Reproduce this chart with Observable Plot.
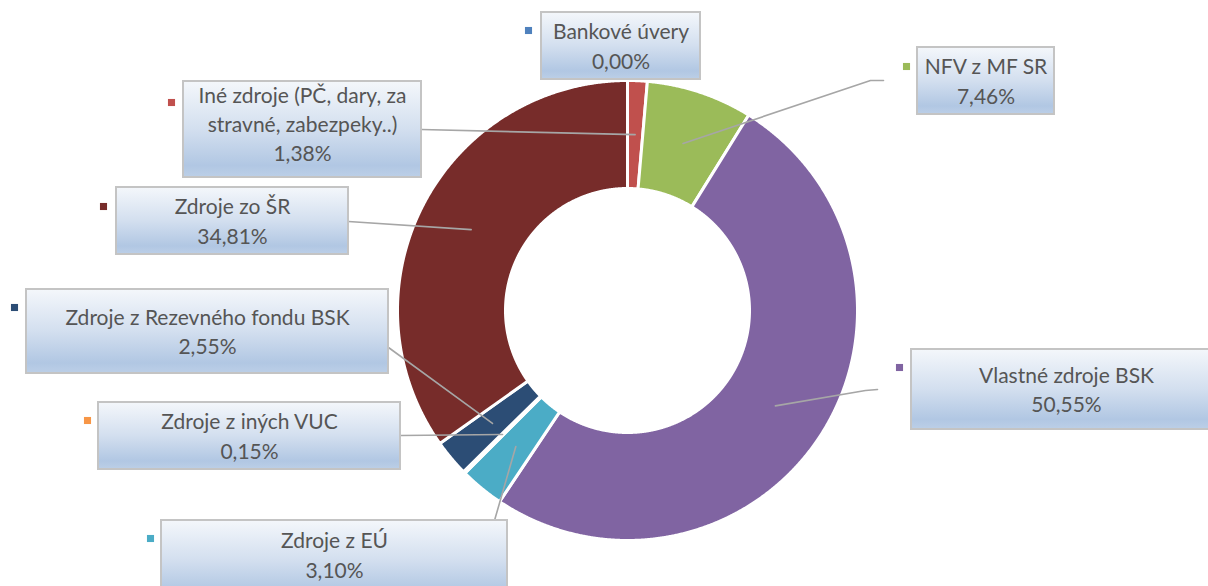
<!DOCTYPE html>
<html><head><meta charset="utf-8">
<script src="https://cdn.jsdelivr.net/npm/d3@7"></script>
<script src="https://cdn.jsdelivr.net/npm/@observablehq/plot@0.6"></script>
<style>body{margin:0;background:#fff}</style>
</head><body><div id="chart"></div>
<script>
// ---- data ----
const categories = [
  "Bankové úvery",
  "Iné zdroje (PČ, dary, za stravné, zabezpeky..)",
  "NFV z MF SR",
  "Vlastné zdroje BSK",
  "Zdroje z EÚ",
  "Zdroje z iných VUC",
  "Zdroje z Rezevného fondu BSK",
  "Zdroje zo ŠR"
];
const shares = [0.00, 1.38, 7.46, 50.55, 3.10, 0.15, 2.55, 34.81];
const labelTexts = [
  "Bankové úvery",
  "Iné zdroje (PČ, dary, za\nstravné, zabezpeky..)",
  "NFV z MF SR",
  "Vlastné zdroje BSK",
  "Zdroje z EÚ",
  "Zdroje z iných VUC",
  "Zdroje z Rezevného fondu BSK",
  "Zdroje zo ŠR"
];
const colors = ["#4F81BD", "#C0504D", "#9BBB59", "#8064A2", "#4BACC6", "#F79646", "#2C4D75", "#772C2A"];

// ---- layout (pixel space of the 1208x586 canvas) ----
const W = 1208, H = 586;
const center = [627, 310], outerR = 230, innerR = 122, anchorR = 176;
// box [x1,x2,y1,y2], marker [x,y], text center x, leader elbow points (from box side)
const boxes = [
  [541, 700, 12, 79],
  [183, 421, 81, 177],
  [917, 1054, 47, 114],
  [911, 1222, 349, 429],
  [161, 507, 520, 600],
  [98, 400, 402, 469],
  [26, 388, 289, 373],
  [116, 348, 187, 254]
];
const markers = [[528, 30], [171, 102], [906, 66], [899, 367], [150, 538], [87, 420], [14, 307], [103, 206]];
const textX = [620.5, 302, 985.5, 1066, 334, 249, 207, 232];
const leaders = [
  [],
  [[421, 129]],
  [[883, 80], [870, 80]],
  [[877, 389], [865, 390]],
  [[494, 520]],
  [[400, 435]],
  [[388, 347]],
  [[348, 221]]
];

// ---- derived geometry ----
const arcs = d3.pie().sort(null).value(d => d)(shares);
const pt = (a, r) => [center[0] + r * Math.sin(a), center[1] - r * Math.cos(a)];
const ring = [];
arcs.forEach((a, i) => {
  if (a.endAngle - a.startAngle <= 0) return;
  const n = Math.max(2, Math.ceil((a.endAngle - a.startAngle) / 0.004));
  for (let k = 0; k <= n; k++) {
    const t = a.startAngle + (a.endAngle - a.startAngle) * k / n;
    const [x, y] = pt(t, outerR); ring.push({name: categories[i], x, y});
  }
  for (let k = n; k >= 0; k--) {
    const t = a.startAngle + (a.endAngle - a.startAngle) * k / n;
    const [x, y] = pt(t, innerR); ring.push({name: categories[i], x, y});
  }
});
const leaderRows = [];
arcs.forEach((a, i) => {
  if (!leaders[i].length) return;
  leaders[i].forEach(([x, y]) => leaderRows.push({id: i, x, y}));
  const [x, y] = pt((a.startAngle + a.endAngle) / 2, anchorR);
  leaderRows.push({id: i, x, y});
});
const fmt = v => v.toFixed(2).replace(".", ",") + "%";
const labels = categories.map((c, i) => ({
  name: c,
  x1: boxes[i][0], x2: boxes[i][1], y1: boxes[i][2], y2: boxes[i][3],
  mx: markers[i][0], my: markers[i][1],
  tx: textX[i], ty: (boxes[i][2] + Math.min(boxes[i][3], boxes[i][2] + 85)) / 2 - 1.5,
  text: labelTexts[i] + "\n" + fmt(shares[i])
}));
// EÚ box is cut off at the bottom; text center from its visible lines
labels[4].ty = 553;

const chart = Plot.plot({
  width: W, height: H,
  margin: 0,
  x: {domain: [0, W], range: [0, W], axis: null},
  y: {domain: [0, H], range: [0, H], axis: null},
  color: {domain: categories, range: colors},
  style: {fontFamily: "Lato, sans-serif", background: "white"},
  marks: [
    Plot.line(ring, {x: "x", y: "y", z: "name", fill: "name", stroke: "white", strokeWidth: 3, curve: "linear-closed"}),
    Plot.line(leaderRows, {x: "x", y: "y", z: "id", stroke: "#A6A6A6", strokeWidth: 1.6}),
    Plot.rect(labels, {x1: "x1", x2: "x2", y1: "y1", y2: "y2", fill: "url(#boxgrad)", stroke: "#C4C4C4", strokeWidth: 2}),
    Plot.dot(labels, {x: "mx", y: "my", fill: "name", symbol: "square", r: 4}),
    Plot.text(labels, {x: "tx", y: "ty", text: "text", fontSize: 21, lineHeight: 1.4, fill: "#555555", textAnchor: "middle", lineAnchor: "middle"})
  ]
});
const ns = "http://www.w3.org/2000/svg";
const defs = document.createElementNS(ns, "defs");
defs.innerHTML = `<linearGradient id="boxgrad" x1="0" y1="0" x2="0" y2="1">
  <stop offset="0" stop-color="#F4F7FB"/>
  <stop offset="0.5" stop-color="#D3DFEF"/>
  <stop offset="0.88" stop-color="#B1C7E3"/>
  <stop offset="1" stop-color="#BCCFE7"/>
</linearGradient>`;
chart.insertBefore(defs, chart.firstChild);
document.getElementById("chart").appendChild(chart);
</script>
</body></html>
